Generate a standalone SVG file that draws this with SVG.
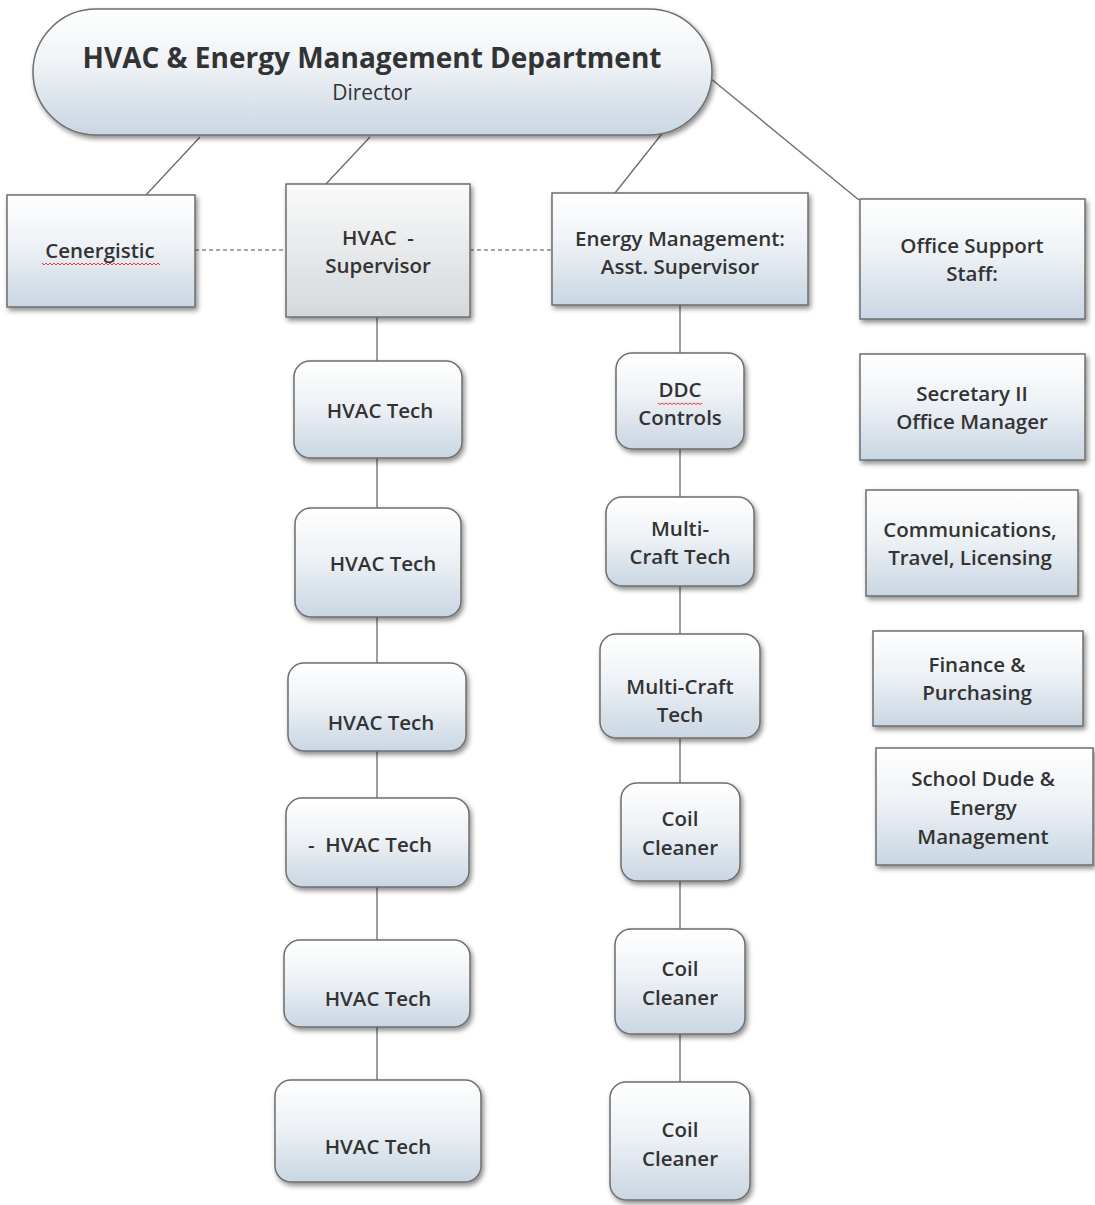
<svg xmlns="http://www.w3.org/2000/svg" width="1095" height="1205" viewBox="0 0 1095 1205">
<defs>
<linearGradient id="g" x1="0" y1="0" x2="0" y2="1">
<stop offset="0" stop-color="#ffffff"/>
<stop offset="0.45" stop-color="#eef2f6"/>
<stop offset="1" stop-color="#c9d6e2"/>
</linearGradient>
<linearGradient id="gs" x1="0" y1="0" x2="0" y2="1">
<stop offset="0" stop-color="#fafafa"/>
<stop offset="1" stop-color="#d4d8dc"/>
</linearGradient>
<filter id="sh" x="-10%" y="-10%" width="125%" height="130%">
<feDropShadow dx="2" dy="3" stdDeviation="2.5" flood-color="#000" flood-opacity="0.45"/>
</filter>
</defs>
<style>
.n{fill:url(#g);stroke:#6e6e6e;stroke-width:1.5;filter:url(#sh)}
.s{fill:url(#gs);stroke:#6e6e6e;stroke-width:1.5;filter:url(#sh)}
.c{stroke:#6a6a6a;stroke-width:1.3;fill:none}
.d{stroke:#8a8a8a;stroke-width:1.3;stroke-dasharray:4 3;fill:none}
text{font-family:"Open Sans","Noto Sans","Liberation Sans",sans-serif;fill:#333;text-anchor:middle;font-size:20.5px;white-space:pre}
.t{font-weight:bold;font-size:28px}
.r{font-size:21px}
.b{font-weight:600}
.sq{stroke:#e04040;stroke-width:1;fill:none}
</style>
<rect width="1095" height="1205" fill="#fff"/>
<g id="connectors">
<line class="c" x1="200" y1="137" x2="146" y2="195"/>
<line class="c" x1="370" y1="137" x2="325" y2="185"/>
<line class="c" x1="676" y1="116" x2="615" y2="193"/>
<line class="c" x1="710" y1="78" x2="859" y2="200"/>
<line class="d" x1="195" y1="250" x2="286" y2="250"/>
<line class="d" x1="470" y1="250" x2="552" y2="250"/>
<line class="c" x1="377" y1="317" x2="377" y2="1080"/>
<line class="c" x1="680" y1="305" x2="680" y2="1082"/>
</g>
<g id="director">
<rect class="n" x="33" y="9" width="679" height="126" rx="63"/>
<text class="t" x="372" y="68">HVAC &amp; Energy Management Department</text>
<text class="r" x="372" y="100">Director</text>
</g>
<g id="cenergistic">
<rect class="n" x="7" y="195" width="188" height="112"/>
<text class="b" x="100" y="258">Cenergistic</text>
<path class="sq" d="M42 263 l2 2 l2 -2 l2 2 l2 -2 l2 2 l2 -2 l2 2 l2 -2 l2 2 l2 -2 l2 2 l2 -2 l2 2 l2 -2 l2 2 l2 -2 l2 2 l2 -2 l2 2 l2 -2 l2 2 l2 -2 l2 2 l2 -2 l2 2 l2 -2 l2 2 l2 -2 l2 2 l2 -2 l2 2 l2 -2 l2 2 l2 -2 l2 2 l2 -2 l2 2 l2 -2 l2 2 l2 -2 l2 2 l2 -2 l2 2 l2 -2 l2 2 l2 -2 l2 2 l2 -2 l2 2 l2 -2 l2 2 l2 -2 l2 2 l2 -2 l2 2 l2 -2 l2 2 l2 -2 l2 2"/>
</g>
<g id="hvac-supervisor">
<rect class="s" x="286" y="184" width="184" height="133"/>
<text class="b" x="378" y="245">HVAC  -</text>
<text class="b" x="378" y="273">Supervisor</text>
</g>
<g id="energy-supervisor">
<rect class="n" x="552" y="193" width="256" height="112"/>
<text class="b" x="680" y="246">Energy Management:</text>
<text class="b" x="680" y="274">Asst. Supervisor</text>
</g>
<g id="office-support">
<rect class="n" x="860" y="199" width="225" height="120"/>
<text class="b" x="972" y="253">Office Support</text>
<text class="b" x="972" y="281">Staff:</text>
</g>
<g id="hvac-tech-1">
<rect class="n" x="294" y="361" width="168" height="97" rx="16"/>
<text class="b" x="380" y="418">HVAC Tech</text>
</g>
<g id="hvac-tech-2">
<rect class="n" x="295" y="508" width="166" height="109" rx="16"/>
<text class="b" x="383" y="571">HVAC Tech</text>
</g>
<g id="hvac-tech-3">
<rect class="n" x="288" y="663" width="178" height="88" rx="16"/>
<text class="b" x="381" y="730">HVAC Tech</text>
</g>
<g id="hvac-tech-4">
<rect class="n" x="286" y="798" width="183" height="89" rx="16"/>
<text class="b" x="370" y="852">-  HVAC Tech</text>
</g>
<g id="hvac-tech-5">
<rect class="n" x="284" y="940" width="186" height="87" rx="16"/>
<text class="b" x="378" y="1006">HVAC Tech</text>
</g>
<g id="hvac-tech-6">
<rect class="n" x="275" y="1080" width="206" height="102" rx="16"/>
<text class="b" x="378" y="1154">HVAC Tech</text>
</g>
<g id="ddc-controls">
<rect class="n" x="616" y="353" width="128" height="96" rx="16"/>
<text class="b" x="680" y="397">DDC</text>
<text class="b" x="680" y="425">Controls</text>
<path class="sq" d="M658 403 l2 1.5 l2 -1.5 l2 1.5 l2 -1.5 l2 1.5 l2 -1.5 l2 1.5 l2 -1.5 l2 1.5 l2 -1.5 l2 1.5 l2 -1.5 l2 1.5 l2 -1.5 l2 1.5 l2 -1.5 l2 1.5 l2 -1.5 l2 1.5 l2 -1.5 l2 1.5 l2 -1.5"/>
</g>
<g id="multi-craft-1">
<rect class="n" x="606" y="497" width="148" height="89" rx="16"/>
<text class="b" x="680" y="536">Multi-</text>
<text class="b" x="680" y="564">Craft Tech</text>
</g>
<g id="multi-craft-2">
<rect class="n" x="600" y="634" width="160" height="104" rx="16"/>
<text class="b" x="680" y="694">Multi-Craft</text>
<text class="b" x="680" y="722">Tech</text>
</g>
<g id="coil-cleaner-1">
<rect class="n" x="621" y="783" width="119" height="98" rx="16"/>
<text class="b" x="680" y="826">Coil</text>
<text class="b" x="680" y="855">Cleaner</text>
</g>
<g id="coil-cleaner-2">
<rect class="n" x="615" y="929" width="130" height="105" rx="16"/>
<text class="b" x="680" y="976">Coil</text>
<text class="b" x="680" y="1005">Cleaner</text>
</g>
<g id="coil-cleaner-3">
<rect class="n" x="610" y="1082" width="140" height="118" rx="16"/>
<text class="b" x="680" y="1137">Coil</text>
<text class="b" x="680" y="1166">Cleaner</text>
</g>
<g id="secretary">
<rect class="n" x="860" y="354" width="225" height="106"/>
<text class="b" x="972" y="401">Secretary II</text>
<text class="b" x="972" y="429">Office Manager</text>
</g>
<g id="communications">
<rect class="n" x="866" y="490" width="212" height="106"/>
<text class="b" x="970" y="537">Communications,</text>
<text class="b" x="970" y="565">Travel, Licensing</text>
</g>
<g id="finance">
<rect class="n" x="873" y="631" width="210" height="95"/>
<text class="b" x="977" y="672">Finance &amp;</text>
<text class="b" x="977" y="700">Purchasing</text>
</g>
<g id="school-dude">
<rect class="n" x="876" y="748" width="217" height="117"/>
<text class="b" x="983" y="786">School Dude &amp;</text>
<text class="b" x="983" y="815">Energy</text>
<text class="b" x="983" y="844">Management</text>
</g>
</svg>
